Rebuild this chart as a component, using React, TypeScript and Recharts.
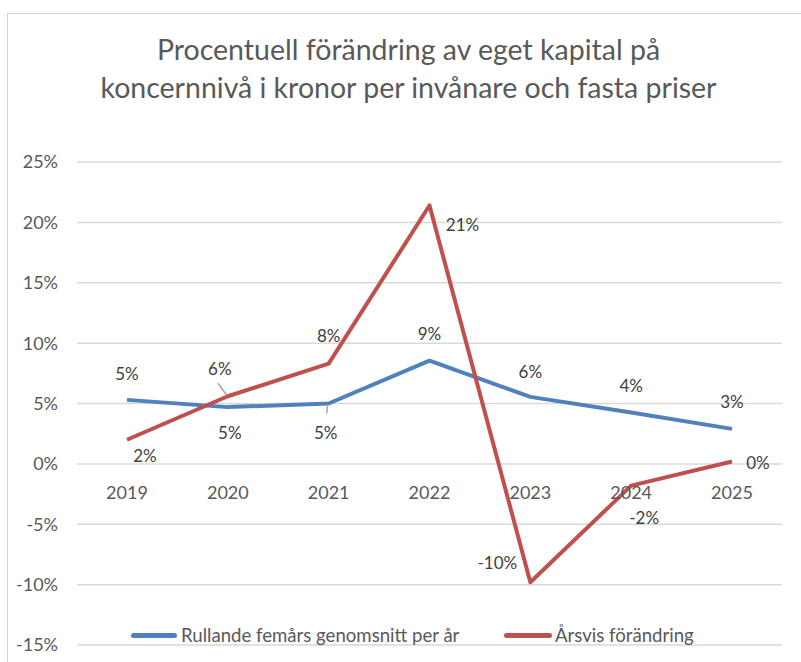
import { LineChart, Line, XAxis, YAxis, CartesianGrid, LabelList } from 'recharts';

const years = ['2019', '2020', '2021', '2022', '2023', '2024', '2025'];
const rollingAvg = [5.3, 4.7, 5.0, 8.55, 5.55, 4.25, 2.9];
const yearlyChange = [2.0, 5.6, 8.3, 21.4, -9.8, -1.8, 0.2];
const yTicks = [-15, -10, -5, 0, 5, 10, 15, 20, 25];

const data = years.map((year, i) => ({ year, rolling: rollingAvg[i], yearly: yearlyChange[i] }));

const W = 801;
const H = 662;
const MARGIN = { top: 162, right: 19, bottom: 16, left: 17 };
const X_AXIS_H = 1;
const PLOT_H = H - MARGIN.top - MARGIN.bottom - X_AXIS_H;
const Y_MIN = -15;
const Y_MAX = 25;

const BLUE = '#4f81bd';
const RED = '#c0504d';
const FONT = 'Lato, sans-serif';

// label offsets from the point (label centre), excel-style manual placement
const blueOffsets = [[0, -26], [2, 25], [-3, 29], [0, -27], [0, -25], [0, -27], [0, -27]];
const redOffsets = [[18, 16], [-8, -28], [0, -28], [33, 19], [-33, -20], [13, 32], [26, 1]];
const blueLeaders: Record<number, number[]> = { 2: [-1, 1, -2, 10] };
const redLeaders: Record<number, number[]> = { 1: [-1, -1, -10, -13] };

const makeLabel = (offsets: number[][], leaders: Record<number, number[]>) => (props: any) => {
  const { x, y, value, index } = props;
  const [dx, dy] = offsets[index];
  const ld = leaders[index];
  return (
    <g>
      {ld && (
        <line x1={x + ld[0]} y1={y + ld[1]} x2={x + ld[2]} y2={y + ld[3]} stroke="#a6a6a6" strokeWidth={1.5} />
      )}
      <text x={x + dx} y={y + dy} textAnchor="middle" dominantBaseline="central" fill="#404040" fontSize={17} fontFamily={FONT}>
        {`${Math.round(value)}%`}
      </text>
    </g>
  );
};

// x labels sit next to the 0% line, like excel's crossing axis
const YearTick = (props: any) => {
  const { x, y, payload } = props;
  const zeroY = y - (PLOT_H * (0 - Y_MIN)) / (Y_MAX - Y_MIN);
  return (
    <text x={x} y={zeroY + 28} textAnchor="middle" dominantBaseline="central" fill="#595959" fontSize={18} fontFamily={FONT}>
      {payload.value}
    </text>
  );
};

export default function App() {
  return (
    <div style={{ position: 'absolute', left: 0, top: 0, width: W, height: H, background: '#fff', overflow: 'hidden' }}>
      <div style={{ position: 'absolute', left: 7, top: 13, right: -2, bottom: -2, borderTop: '1px solid #d4d4d4', borderLeft: '1px solid #d4d4d4' }} />
      <div
        style={{
          position: 'absolute',
          left: 0,
          width: 817,
          top: 30,
          textAlign: 'center',
          fontFamily: FONT,
          fontSize: 28.5,
          lineHeight: '38px',
          color: '#595959',
        }}
      >
        Procentuell förändring av eget kapital på
        <br />
        koncernnivå i kronor per invånare och fasta priser
      </div>
      <div style={{ position: 'absolute', left: 0, top: 0 }}>
        <LineChart width={W} height={H} data={data} margin={MARGIN}>
          <CartesianGrid vertical={false} stroke="#d9d9d9" strokeWidth={1.5} />
          <XAxis
            dataKey="year"
            axisLine={false}
            tickLine={false}
            tickSize={0}
            tickMargin={0}
            height={X_AXIS_H}
            tick={<YearTick />}
            interval={0}
            padding={{ left: 50, right: 50 }}
          />
          <YAxis
            domain={[Y_MIN, Y_MAX]}
            ticks={yTicks}
            width={60}
            axisLine={false}
            tickLine={false}
            tickSize={0}
            tickMargin={19}
            tickFormatter={(v: number) => `${v}%`}
            tick={{ fill: '#595959', fontSize: 18, fontFamily: FONT }}
          />
          <Line dataKey="rolling" stroke={BLUE} strokeWidth={4} dot={false} isAnimationActive={false} strokeLinejoin="round">
            <LabelList dataKey="rolling" content={makeLabel(blueOffsets, blueLeaders)} />
          </Line>
          <Line dataKey="yearly" stroke={RED} strokeWidth={4} dot={false} isAnimationActive={false} strokeLinejoin="round">
            <LabelList dataKey="yearly" content={makeLabel(redOffsets, redLeaders)} />
          </Line>
        </LineChart>
      </div>
      <div style={{ position: 'absolute', left: 131, top: 624, display: 'flex', alignItems: 'center', fontFamily: FONT, fontSize: 18.6, color: '#595959', whiteSpace: 'nowrap' }}>
        <span style={{ display: 'inline-block', width: 46, height: 5, borderRadius: 3, background: BLUE, marginRight: 4 }} />
        <span style={{ width: 323 }}>Rullande femårs genomsnitt per år</span>
        <span style={{ display: 'inline-block', width: 48, height: 5, borderRadius: 3, background: RED, marginRight: 3 }} />
        <span>Årsvis förändring</span>
      </div>
    </div>
  );
}
